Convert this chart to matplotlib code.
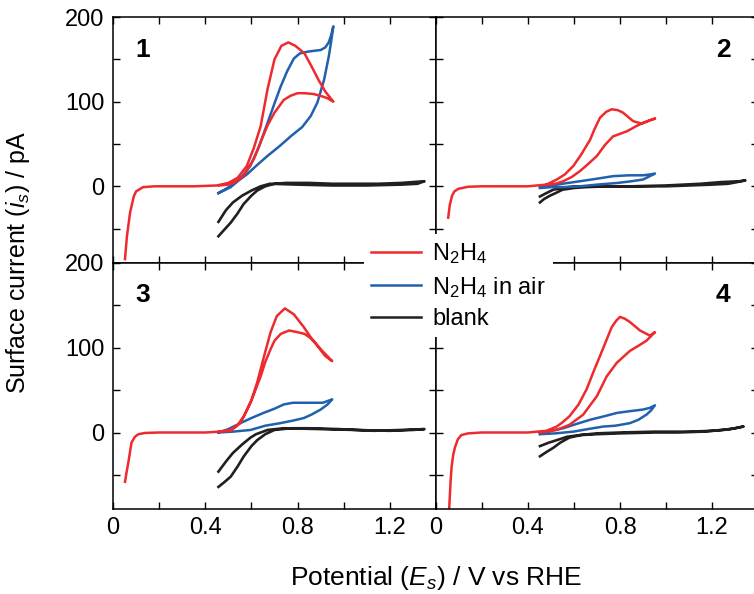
import matplotlib
matplotlib.use("Agg")
import matplotlib.pyplot as plt
from matplotlib.lines import Line2D
from matplotlib.ticker import MultipleLocator

plt.rcParams['font.family'] = ['Liberation Sans', 'DejaVu Sans']
plt.rcParams['mathtext.fontset'] = 'custom'
plt.rcParams['mathtext.rm'] = 'Liberation Sans'
plt.rcParams['mathtext.it'] = 'Liberation Sans:italic'

# ---- data (potential in V vs RHE, current in pA) ----
# panel 1
p1_red_v = [0.052, 0.06, 0.074, 0.09, 0.10, 0.13, 0.18, 0.25, 0.35, 0.45, 0.50, 0.54, 0.58, 0.61, 0.64, 0.67, 0.70, 0.73, 0.76, 0.79, 0.83, 0.86, 0.89, 0.92, 0.955,
            0.93, 0.91, 0.87, 0.83, 0.80, 0.77, 0.74, 0.70, 0.67, 0.65, 0.61, 0.565, 0.53, 0.50, 0.46]
p1_red_i = [-86, -60, -31, -12, -6, -1, 0, 0, 0, 1, 4, 10, 24, 45, 71, 115, 150, 166, 170, 166, 157, 142, 126, 112, 100,
            104, 106, 109, 110, 110, 107, 102, 87, 72, 59, 32, 12, 5, 2, 1]
p1_blue_v = [0.457, 0.49, 0.52, 0.56, 0.595, 0.63, 0.67, 0.70, 0.727, 0.755, 0.784, 0.81, 0.843, 0.87, 0.90, 0.92, 0.935, 0.945, 0.955,
             0.945, 0.935, 0.915, 0.90, 0.886, 0.857, 0.82, 0.77, 0.72, 0.67, 0.62, 0.58, 0.54, 0.51, 0.48, 0.457]
p1_blue_i = [-8, -3, 2, 12, 24, 45, 75, 98, 118, 136, 151, 157, 159, 160, 161, 164, 170, 178, 189,
             170, 153, 126, 112, 99, 83, 70, 59, 47, 36, 24, 14, 6, -1, -5, -8]
p1_black_v = [0.457, 0.48, 0.51, 0.54, 0.566, 0.60, 0.625, 0.66, 0.70, 0.75, 0.85, 0.95, 1.05, 1.15, 1.25, 1.30, 1.35,
              1.32, 1.25, 1.10, 0.95, 0.80, 0.68, 0.64, 0.60, 0.56, 0.52, 0.49, 0.457]
p1_black_i = [-59, -52, -43, -32, -21, -11, -5, 0, 3, 4, 4, 3, 3, 3, 4, 5, 6,
              3, 2, 1, 1, 2, 3, 0, -5, -11, -19, -28, -42]

# panel 2
p2_red_v = [0.053, 0.06, 0.07, 0.08, 0.097, 0.14, 0.2, 0.3, 0.4, 0.48, 0.525, 0.56, 0.597, 0.63, 0.67, 0.69, 0.713, 0.74, 0.764, 0.79, 0.813, 0.835, 0.857, 0.895, 0.93, 0.952,
            0.93, 0.90, 0.87, 0.83, 0.80, 0.77, 0.735, 0.70, 0.66, 0.626, 0.59, 0.553, 0.52, 0.48]
p2_red_i = [-37, -22, -11, -6, -3, -0.5, 0, 0, 0, 2, 8, 14, 24, 37, 55, 68, 81, 88, 91, 90, 87, 82, 77, 74, 78, 80,
            78, 75, 71, 65, 62, 59, 49, 36, 26, 18, 11, 6, 3, 2]
p2_blue_v = [0.452, 0.50, 0.55, 0.626, 0.70, 0.77, 0.84, 0.90, 0.93, 0.952,
             0.93, 0.90, 0.85, 0.79, 0.70, 0.626, 0.55, 0.50, 0.452]
p2_blue_i = [-1, 1, 3, 6, 9, 12, 13, 13, 14, 15,
             12, 8, 6, 4, 2, 0, -1, -1, -2]
p2_black_v = [0.452, 0.47, 0.496, 0.52, 0.55, 0.60, 0.65, 0.75, 0.9, 1.0, 1.1, 1.2, 1.27, 1.31, 1.345,
              1.32, 1.24, 1.15, 1.0, 0.85, 0.70, 0.60, 0.55, 0.51, 0.48, 0.452]
p2_black_i = [-19, -15, -11, -8, -4, -2, -1, 0, 0, 0, 1, 2, 3, 5, 7,
              6, 5, 3, 1, 0, 0, 0, -2, -4, -8, -12]

# panel 3
p3_red_v = [0.052, 0.058, 0.066, 0.08, 0.095, 0.11, 0.14, 0.2, 0.3, 0.4, 0.46, 0.51, 0.54, 0.567, 0.60, 0.625, 0.655, 0.683, 0.71, 0.745, 0.784, 0.827, 0.857, 0.90, 0.95,
            0.92, 0.88, 0.857, 0.83, 0.80, 0.763, 0.727, 0.70, 0.683, 0.66, 0.64, 0.596, 0.552, 0.51, 0.46]
p3_red_i = [-58, -48, -36, -12, -5, -2, -0.5, 0, 0, 0, 1, 3, 9, 19, 38, 59, 90, 118, 137, 146, 139, 124, 112, 98, 84,
            90, 104, 111, 116, 118, 120, 116, 108, 98, 83, 66, 35, 11, 2, 1]
p3_blue_v = [0.457, 0.50, 0.552, 0.60, 0.652, 0.70, 0.74, 0.78, 0.827, 0.87, 0.91, 0.93, 0.95,
             0.93, 0.90, 0.86, 0.827, 0.78, 0.725, 0.66, 0.596, 0.52, 0.457]
p3_blue_i = [0, 4, 11, 17, 23, 28, 33, 35, 35, 35, 35, 37, 39,
             33, 27, 21, 17, 14, 11, 8, 3, 1, 0]
p3_black_v = [0.457, 0.48, 0.51, 0.54, 0.567, 0.60, 0.625, 0.66, 0.70, 0.77, 0.85, 0.98, 1.13, 1.25, 1.35,
              1.30, 1.2, 1.05, 0.9, 0.74, 0.67, 0.62, 0.596, 0.56, 0.52, 0.49, 0.457]
p3_black_i = [-64, -59, -52, -40, -28, -16, -9, -2, 3, 5, 5, 4, 2, 3, 4,
              3, 2, 3, 4, 5, 3, -2, -6, -14, -24, -34, -46]

# panel 4
p4_red_v = [0.057, 0.06, 0.064, 0.068, 0.075, 0.083, 0.095, 0.11, 0.14, 0.2, 0.3, 0.4, 0.48, 0.525, 0.55, 0.58, 0.62, 0.655, 0.69, 0.713, 0.74, 0.764, 0.785, 0.8, 0.82, 0.843, 0.887, 0.93, 0.952,
            0.915, 0.88, 0.843, 0.786, 0.742, 0.70, 0.64, 0.58, 0.525, 0.48, 0.45]
p4_red_i = [-92, -75, -55, -40, -26, -17, -8, -3, -1, 0, 0, 0, 2, 7, 12, 19, 33, 51, 75, 90, 108, 124, 132, 136, 134, 130, 120, 114, 118,
            108, 102, 96, 82, 66, 43, 21, 9, 3, 1, 0]
p4_blue_v = [0.452, 0.50, 0.553, 0.61, 0.67, 0.73, 0.786, 0.84, 0.9, 0.93, 0.952,
             0.935, 0.915, 0.88, 0.843, 0.78, 0.727, 0.66, 0.597, 0.52, 0.452]
p4_blue_i = [-1.5, 2, 5, 10, 15, 19, 23, 25, 27, 29, 32,
             26, 21, 15, 11, 8, 7, 4, 1, -1, -2]
p4_black_v = [0.452, 0.48, 0.51, 0.54, 0.58, 0.63, 0.70, 0.8, 0.95, 1.05, 1.16, 1.25, 1.30, 1.336,
              1.30, 1.28, 1.2, 1.1, 0.95, 0.8, 0.7, 0.626, 0.57, 0.525, 0.49, 0.452]
p4_black_i = [-28, -23, -18, -12, -6, -3, -2, -1, 0, 0, 1, 3, 5, 7,
              5, 4, 2, 1, 1, 0, -1, -3, -5, -9, -12, -16]

panels = [
    ('1', p1_red_v, p1_red_i, p1_blue_v, p1_blue_i, p1_black_v, p1_black_i),
    ('2', p2_red_v, p2_red_i, p2_blue_v, p2_blue_i, p2_black_v, p2_black_i),
    ('3', p3_red_v, p3_red_i, p3_blue_v, p3_blue_i, p3_black_v, p3_black_i),
    ('4', p4_red_v, p4_red_i, p4_blue_v, p4_blue_i, p4_black_v, p4_black_i),
]
series_labels = [r'N$_2$H$_4$', r'N$_2$H$_4$ in air', 'blank']

RED = '#ee2a2e'
BLUE = '#2160ad'
BLACK = '#231f20'
FS = 17

W, H = 754, 594
fig = plt.figure(figsize=(W / 100, H / 100), dpi=100)

x0, xm, x1 = 113 / W, 436 / W, 758 / W
y_top, y_mid, y_bot = 1 - 17 / H, 1 - 262.5 / H, 1 - 509 / H
boxes = [
    [x0, y_mid, xm - x0, y_top - y_mid],
    [xm, y_mid, x1 - xm, y_top - y_mid],
    [x0, y_bot, xm - x0, y_mid - y_bot],
    [xm, y_bot, x1 - xm, y_mid - y_bot],
]
label_pos = [(0.068, 0.865, 'left'), (0.915, 0.865, 'right'),
             (0.068, 0.87, 'left'), (0.915, 0.87, 'right')]

for k, (name, rv, ri, bv, bi, kv, ki) in enumerate(panels):
    ax = fig.add_axes(boxes[k])
    ax.plot(kv, ki, color=BLACK, lw=1.9)
    ax.plot(bv, bi, color=BLUE, lw=1.8)
    ax.plot(rv, ri, color=RED, lw=1.8)
    ax.set_xlim(0, 1.4)
    ax.set_ylim(-90, 200)
    ax.xaxis.set_major_locator(MultipleLocator(0.4))
    ax.xaxis.set_minor_locator(MultipleLocator(0.2))
    ax.yaxis.set_major_locator(MultipleLocator(100))
    ax.yaxis.set_minor_locator(MultipleLocator(50))
    ax.tick_params(which='both', direction='in', top=True, right=True,
                   length=5, width=1, labelsize=FS, pad=6)
    ax.set_xticks([0, 0.4, 0.8, 1.2])
    ax.set_xticklabels(['0', '0.4', '0.8', '1.2'])
    ax.set_yticks([0, 100, 200])
    if k in (0, 1):
        ax.tick_params(labelbottom=False)
    if k in (1, 3):
        ax.tick_params(labelleft=False)
    for s in ax.spines.values():
        s.set_linewidth(1.1)
    tx, ty, ha = label_pos[k]
    ax.text(tx, ty, name, transform=ax.transAxes, ha=ha, va='center',
            fontsize=19, fontweight='bold')

handles = [Line2D([], [], color=c, lw=1.8) for c in (RED, BLUE, BLACK)]
leg = fig.legend(handles, series_labels, loc='upper left',
                 bbox_to_anchor=(364 / W, 1 - 234 / H), fontsize=FS,
                 frameon=True, fancybox=False, framealpha=1,
                 facecolor='white', edgecolor='none',
                 handlelength=2.1, handletextpad=0.5, labelspacing=0.37,
                 borderpad=0.3, borderaxespad=0)

fig.text(18 / W, 1 - 263 / H, r'Surface current ($\mathit{i_s}$) / pA',
         rotation=90, ha='center', va='center', fontsize=FS + 1)
fig.text(436 / W, 1 - 578 / H, r'Potential ($E_s$) / V vs RHE',
         ha='center', va='center', fontsize=FS + 2)

fig.savefig('out.png', dpi=100)
